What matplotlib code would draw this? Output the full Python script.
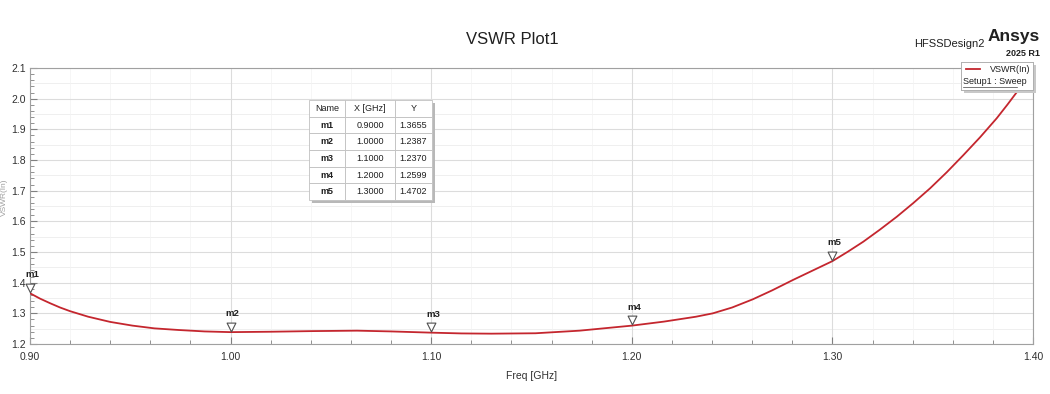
import numpy as np
import matplotlib
matplotlib.use("Agg")
import matplotlib.pyplot as plt
from matplotlib.ticker import MultipleLocator

plt.rcParams['font.family'] = ['Liberation Sans', 'DejaVu Sans']

# VSWR curve
freq = [0.90, 0.905, 0.910, 0.915, 0.920, 0.929, 0.940, 0.951, 0.962, 0.974, 0.987,
        1.000, 1.020, 1.040, 1.063, 1.080, 1.100, 1.115, 1.130, 1.152, 1.174, 1.200,
        1.216, 1.232, 1.2404, 1.250, 1.2603, 1.270, 1.2803, 1.290, 1.300, 1.3077,
        1.3154, 1.3237, 1.3321, 1.3404, 1.3487, 1.357, 1.3653, 1.3736, 1.3819,
        1.3873, 1.3927, 1.3965, 1.400]
vswr = [1.3655, 1.348, 1.333, 1.319, 1.307, 1.289, 1.272, 1.260, 1.251, 1.2457, 1.241,
        1.2387, 1.240, 1.242, 1.2435, 1.241, 1.2370, 1.2345, 1.2337, 1.235, 1.2435, 1.2599,
        1.273, 1.289, 1.300, 1.319, 1.3457, 1.375, 1.4087, 1.439, 1.4702, 1.501,
        1.5336, 1.573, 1.615, 1.660, 1.7077, 1.760, 1.816, 1.874, 1.936,
        1.981, 2.028, 2.060, 2.093]

# markers
m_names = ['m1', 'm2', 'm3', 'm4', 'm5']
m_x = [0.9000, 1.0000, 1.1000, 1.2000, 1.3000]
m_y = [1.3655, 1.2387, 1.2370, 1.2599, 1.4702]

fig = plt.figure(figsize=(10.5, 3.94), dpi=100)
ax = fig.add_axes([30/1050, 1 - 344/394, (1033-30)/1050, (344-68)/394])

ax.plot(freq, vswr, color='#c4262e', linewidth=1.3, zorder=3)

ax.set_xlim(0.9, 1.4)
ax.set_ylim(1.2, 2.1)
ax.xaxis.set_major_locator(MultipleLocator(0.1))
ax.xaxis.set_minor_locator(MultipleLocator(0.02))
ax.yaxis.set_major_locator(MultipleLocator(0.1))
ax.yaxis.set_minor_locator(MultipleLocator(0.02))
ax.xaxis.set_major_formatter(plt.FuncFormatter(lambda v, p: '%.2f' % v))
ax.yaxis.set_major_formatter(plt.FuncFormatter(lambda v, p: '%.1f' % v))

ax.grid(which='major', color='#dcdcdc', linewidth=0.8)
ax.grid(which='minor', axis='x', color='#f3f3f3', linewidth=0.5)
for yv in np.arange(1.25, 2.1, 0.1):
    ax.axhline(yv, color='#ececec', linewidth=0.6, zorder=0)
ax.set_axisbelow(True)
for s in ax.spines.values():
    s.set_color('#a0a0a0')
    s.set_linewidth(0.8)
ax.tick_params(which='both', direction='in', colors='#808080', labelcolor='#303030', labelsize=7.5)
ax.tick_params(which='major', length=5)
ax.tick_params(which='minor', length=3)
ax.tick_params(axis='x', pad=6)
ax.tick_params(axis='y', pad=3)

ax.set_xlabel('Freq [GHz]', fontsize=7.5, color='#303030', labelpad=6)
fig.text(0.5/1050, 0.5, 'VSWR(In)', rotation=90, fontsize=6, color='#a0a0a0', ha='left', va='center')

# marker triangles and labels
ax.scatter(m_x, np.array(m_y) + 0.018, marker='v', s=40, facecolor='white',
           edgecolor='#505050', linewidth=0.8, zorder=5, clip_on=False)
for n, x, y in zip(m_names, m_x, m_y):
    ax.text(x + 0.001, y + 0.045, n, fontsize=6.8, fontweight='bold', color='#202020',
            ha='center', va='bottom', zorder=6, clip_on=False)

# title and branding
fig.text(512/1050, 1 - 40/394, 'VSWR Plot1', fontsize=12, ha='center', va='center', color='#202020')
fig.text(985/1050, 1 - 44/394, 'HFSSDesign2', fontsize=8, ha='right', va='center', color='#202020')
fig.text(1040/1050, 1 - 37/394, 'Ansys', fontsize=12.5, fontweight='bold', ha='right', va='center', color='#202020')
fig.text(1040/1050, 1 - 54/394, '2025 R1', fontsize=6.5, fontweight='bold', ha='right', va='center', color='#202020')

# legend box
lax = fig.add_axes([961/1050, 1 - 90/394, 72/1050, 28/394])
lax.set_xlim(0, 72)
lax.set_ylim(28, 0)
lax.set_xticks([])
lax.set_yticks([])
for s in lax.spines.values():
    s.set_color('#b0b0b0')
    s.set_linewidth(0.7)
lax.plot([5, 19], [7, 7], color='#c4262e', linewidth=1.3)
lax.text(69, 8, 'VSWR(In)', fontsize=6.5, ha='right', va='center', color='#202020')
lax.text(2, 20, 'Setup1 : Sweep', fontsize=6.5, ha='left', va='center', color='#202020')
lax.plot([2, 56], [25, 25], color='#404040', linewidth=0.5)
fig.patches.append(plt.Rectangle((964/1050, 1 - 93/394), 72/1050, 28/394, transform=fig.transFigure,
                                 facecolor='#c8c8c8', edgecolor='none', zorder=0))
lax.set_zorder(4)

# marker table
tax = fig.add_axes([309/1050, 1 - 200/394, 123/1050, 100/394])
tax.axis('off')
cells = [[n, '%.4f' % x, '%.4f' % y] for n, x, y in zip(m_names, m_x, m_y)]
tbl = tax.table(cellText=cells, colLabels=['Name', 'X [GHz]', 'Y'],
                colWidths=[36, 50, 37], bbox=[0, 0, 1, 1], cellLoc='center')
tbl.auto_set_font_size(False)
tbl.set_fontsize(6.5)
for (r, c), cell in tbl.get_celld().items():
    cell.set_edgecolor('#c0c0c0')
    cell.set_linewidth(0.6)
    cell.get_text().set_color('#202020')
    if r > 0 and c == 0:
        cell.get_text().set_fontweight('bold')
fig.patches.append(plt.Rectangle((312/1050, 1 - 203/394), 123/1050, 100/394, transform=fig.transFigure,
                                 facecolor='#b8b8b8', edgecolor='none', zorder=0))
tax.set_zorder(4)

fig.savefig('out.png', dpi=100, facecolor='white')
